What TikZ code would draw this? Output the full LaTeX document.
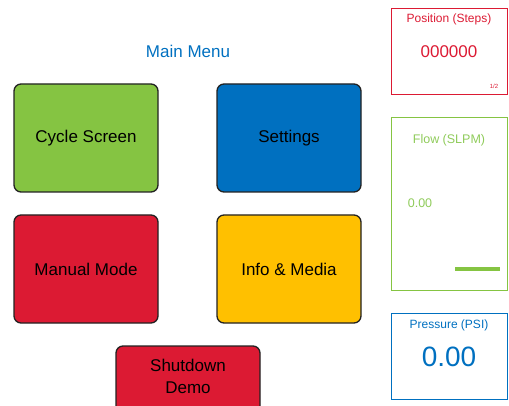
\documentclass[tikz,border=0pt]{standalone}
\usepackage{fontspec}
\setmainfont{Liberation Sans}
\definecolor{cgreen}{HTML}{85C442}
\definecolor{cblue}{HTML}{0070C0}
\definecolor{cred}{HTML}{DC1A33}
\definecolor{cyellow}{HTML}{FFC000}
\definecolor{cgtext}{HTML}{8FCB5A}
\definecolor{cborder}{HTML}{222222}
\begin{document}
\begin{tikzpicture}[x=1pt,y=-1pt,
  btn/.style={draw=cborder,line width=1.3pt,rounded corners=7pt,minimum width=144pt,minimum height=108pt,font=\fontsize{17}{22}\selectfont,text=black,align=center},
  panel/.style={draw,line width=1pt,minimum width=116pt,anchor=north west}]
\useasboundingbox (0,0) rectangle (509,406);
\node[text=cblue,font=\fontsize{17}{20}\selectfont] (title) at (188,51) {Main Menu};
\node[btn,fill=cgreen] (cycle) at (86,138) {Cycle Screen};
\node[btn,fill=cblue] (settings) at (289,138) {Settings};
\node[btn,fill=cred] (manual) at (86,269) {Manual Mode};
\node[btn,fill=cyellow] (info) at (289,269) {Info \& Media};
\begin{scope}
\clip (0,0) rectangle (509,406);
\node[btn,fill=cred,minimum height=90pt,text height=42pt,text depth=37pt] (shut) at (188,391) {Shutdown\\Demo};
\end{scope}
% position panel
\node[panel,draw=cred,minimum height=86pt] (pos) at (391,8) {};
\node[text=cred,font=\fontsize{12}{14}\selectfont] (postitle) at (449,19) {Position (Steps)};
\node[text=cred,font=\fontsize{17}{20}\selectfont] (posval) at (449,52) {000000};
\node[text=cred,font=\fontsize{6}{7}\selectfont] (page) at (494,86) {1/2};
% flow panel
\node[panel,draw=cgreen,line width=1.4pt,minimum height=173pt] (flow) at (391,117) {};
\node[text=cgtext,font=\fontsize{12.5}{14}\selectfont] (flowtitle) at (449,140) {Flow (SLPM)};
\node[text=cgtext,font=\fontsize{12.5}{14}\selectfont] (flowval) at (420,203) {0.00};
\fill[cgreen] (455,267.5) rectangle (500,271.5);
% pressure panel
\node[panel,draw=cblue,minimum height=86pt] (pres) at (391,313) {};
\node[text=cblue,font=\fontsize{12}{14}\selectfont] (prestitle) at (449,325) {Pressure (PSI)};
\node[text=cblue,font=\fontsize{28}{32}\selectfont] (presval) at (449,357) {0.00};
\end{tikzpicture}
\end{document}
